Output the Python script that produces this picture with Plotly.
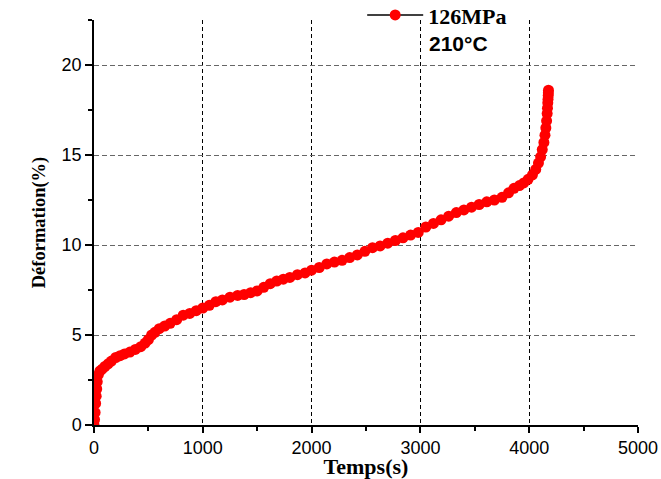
import plotly.graph_objects as go

temps = [0, 5, 10, 15, 20, 25, 30, 40, 55, 75, 100, 130, 160, 200, 240, 280, 330, 380, 430, 470,
         500, 530, 560, 600, 650, 700, 760, 820, 880, 940, 1000, 1060, 1120, 1180, 1250, 1320,
         1380, 1440, 1500, 1560, 1620, 1680, 1740, 1800, 1870, 1940, 2000, 2070, 2140, 2210,
         2280, 2350, 2420, 2490, 2560, 2630, 2700, 2770, 2840, 2910, 2980, 3050, 3120, 3190,
         3260, 3330, 3400, 3470, 3540, 3610, 3680, 3750, 3810, 3860, 3910, 3950, 3990, 4030,
         4060, 4085, 4105, 4120, 4135, 4145, 4153, 4160, 4165, 4168, 4171, 4173, 4175, 4176, 4177]
deformation = [0, 0.3, 0.7, 1.2, 1.6, 2.0, 2.4, 2.8, 3.0, 3.1, 3.25, 3.4, 3.55, 3.75, 3.85, 3.95,
               4.05, 4.2, 4.35, 4.55, 4.75, 5.0, 5.15, 5.35, 5.5, 5.65, 5.85, 6.1, 6.2, 6.35, 6.5,
               6.65, 6.85, 6.95, 7.1, 7.2, 7.25, 7.35, 7.45, 7.65, 7.85, 8.0, 8.1, 8.2, 8.35, 8.45,
               8.6, 8.75, 8.95, 9.05, 9.15, 9.3, 9.45, 9.65, 9.85, 9.95, 10.1, 10.25, 10.4, 10.55,
               10.7, 11.0, 11.2, 11.4, 11.6, 11.8, 11.95, 12.1, 12.25, 12.4, 12.5, 12.65, 12.9,
               13.15, 13.3, 13.45, 13.65, 13.9, 14.2, 14.55, 14.9, 15.3, 15.7, 16.1, 16.5, 16.9,
               17.3, 17.6, 17.9, 18.1, 18.3, 18.45, 18.6]

x_ticks = [0, 1000, 2000, 3000, 4000, 5000]
y_ticks = [0, 5, 10, 15, 20]
series_name = "126MPa"
condition = "210°C"

fig = go.Figure()
fig.add_trace(go.Scatter(
    x=temps, y=deformation, mode="lines+markers", name=series_name,
    line=dict(color="black", width=1.5),
    marker=dict(color="#ff0000", size=11, line=dict(width=0)),
))

tickfont = dict(family="Arial, Liberation Sans", size=18, color="black")

fig.update_layout(
    width=661, height=479,
    margin=dict(l=94, r=23, t=20, b=54, autoexpand=False),
    plot_bgcolor="white", paper_bgcolor="white",
    showlegend=True,
    hovermode=False,
    legend=dict(x=0.493, y=1.012, xanchor="left", yanchor="middle",
                bgcolor="rgba(0,0,0,0)", itemwidth=56,
                font=dict(family="Times New Roman, Liberation Serif", size=22, color="black", weight="bold")),
    xaxis=dict(
        range=[0, 5000], tickvals=x_ticks, ticktext=[str(v) for v in x_ticks],
        showline=True, linecolor="black", linewidth=1.5, mirror=False,
        ticks="outside", ticklen=6, tickwidth=1.5, tickcolor="black",
        minor=dict(dtick=500, ticks="outside", ticklen=4, tickwidth=1.5, tickcolor="black", showgrid=False),
        showgrid=True, gridcolor="black", gridwidth=1, griddash="4px,3px",
        zeroline=False, tickfont=tickfont, automargin=False, ticklabeloverflow="allow",
        title=dict(text="Temps(s)",
                   font=dict(family="Times New Roman, Liberation Serif", size=22, color="black", weight="bold"),
                   standoff=0),
    ),
    yaxis=dict(
        range=[0, 22.5], tickvals=y_ticks, ticktext=[str(v) for v in y_ticks],
        showline=True, linecolor="black", linewidth=1.5, mirror=False,
        ticks="outside", ticklen=7, tickwidth=1.5, tickcolor="black",
        minor=dict(dtick=2.5, ticks="outside", ticklen=4, tickwidth=1.5, tickcolor="black", showgrid=False),
        showgrid=True, gridcolor="#666666", gridwidth=1, griddash="5px,3px",
        zeroline=False, tickfont=tickfont, automargin=False, ticklabeloverflow="allow",
        title=dict(text="Déformation(%)",
                   font=dict(family="Times New Roman, Liberation Serif", size=18.5, color="black", weight="bold"),
                   standoff=11),
    ),
    annotations=[dict(
        x=0.612, y=0.943, xref="paper", yref="paper", xanchor="left", yanchor="middle",
        text=condition, showarrow=False,
        font=dict(family="Arial, Liberation Sans", size=21, color="black", weight="bold"),
    )],
)

fig.write_html("out.html", config={"displayModeBar": False},
               post_script="document.body.style.margin='0px';")
